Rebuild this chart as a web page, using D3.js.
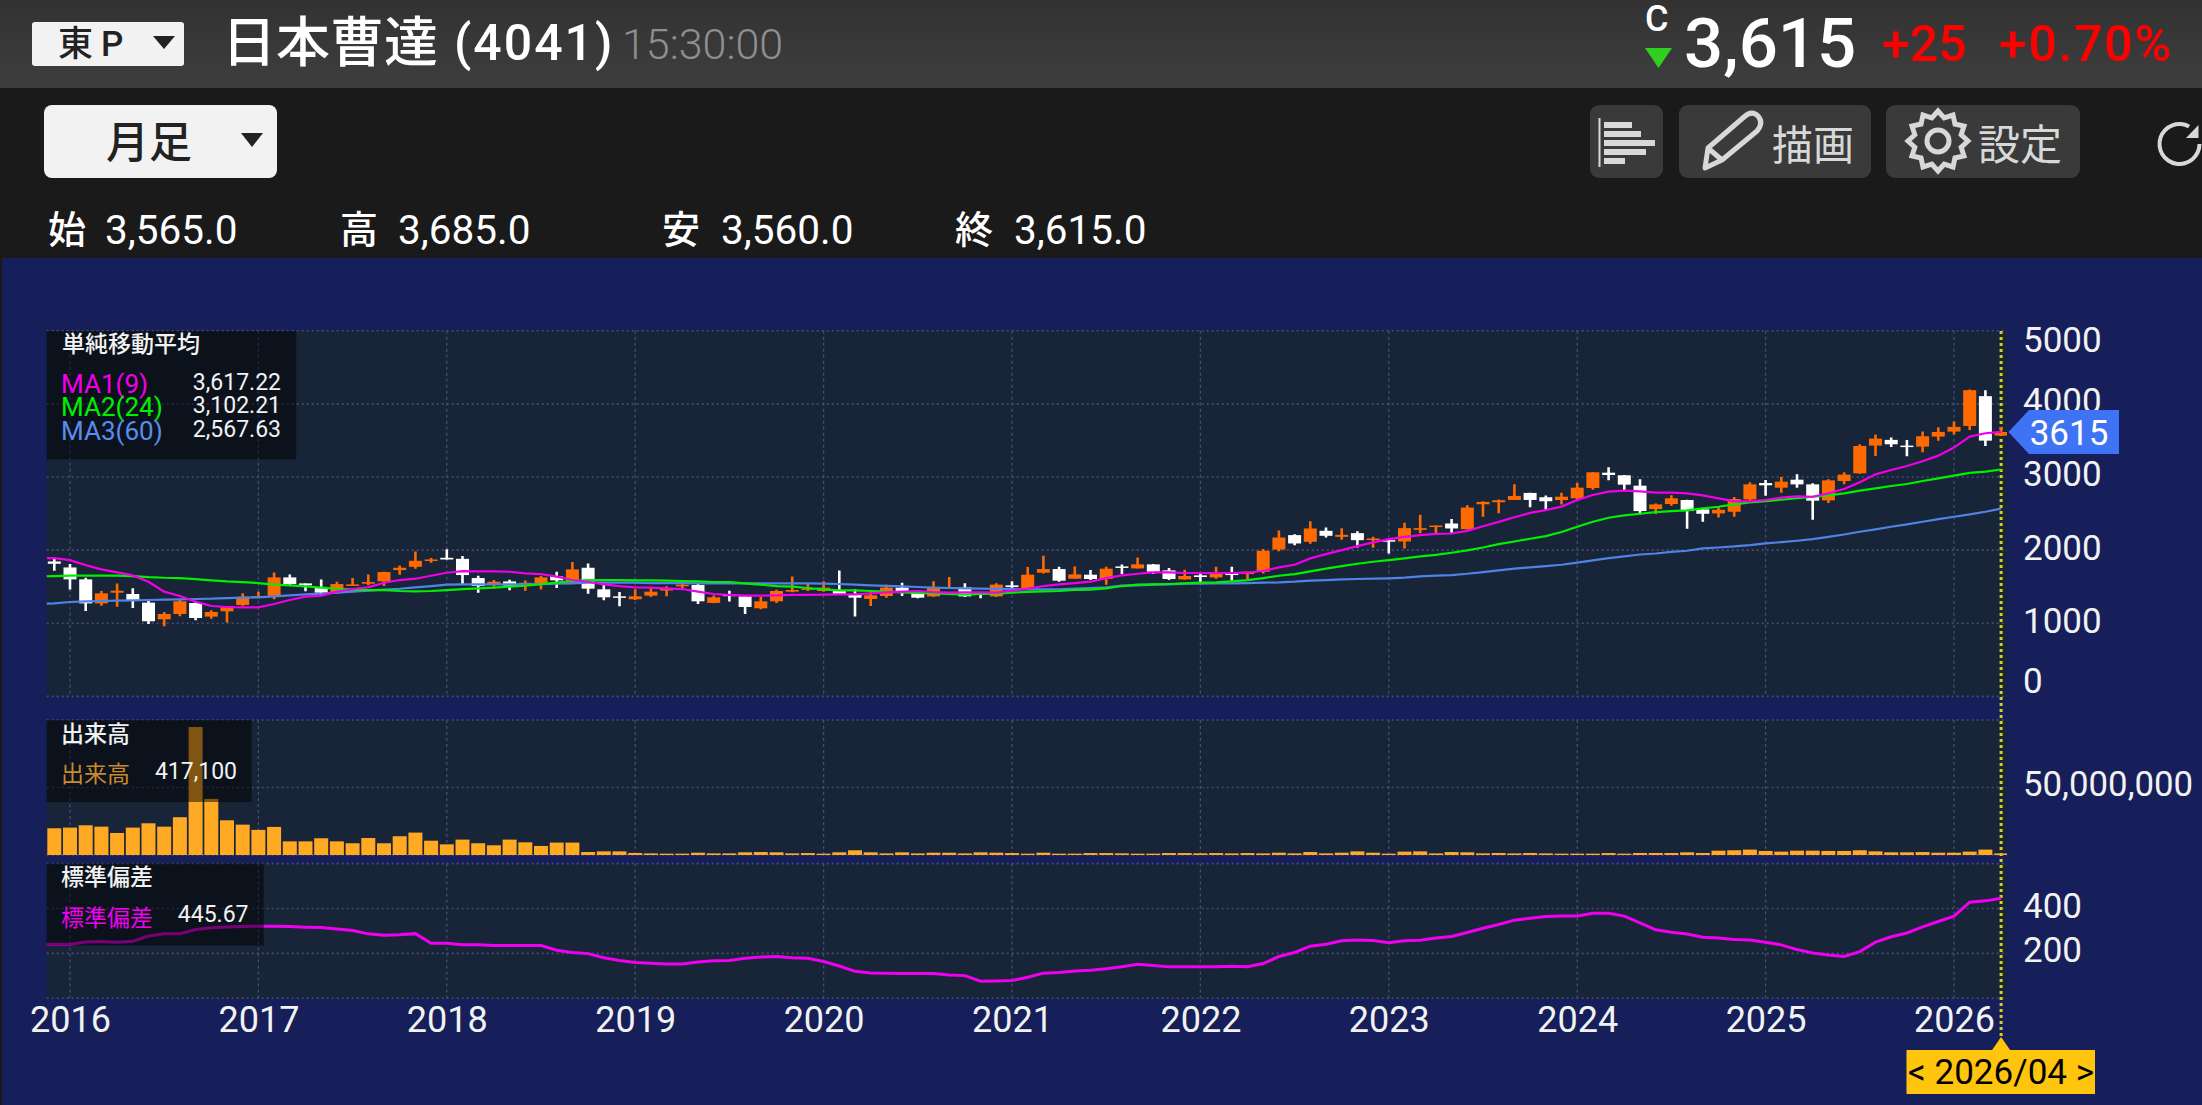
<!DOCTYPE html>
<html>
<head>
<meta charset="utf-8">
<script src="https://cdn.jsdelivr.net/npm/d3@7"></script>
<style>
  html, body { margin: 0; padding: 0; background: #161f5a; overflow: hidden; }
  svg { display: block; }
  text { font-family: Roboto, "Noto Sans CJK JP", sans-serif; }
</style>
</head>
<body>
<div id="chart"></div>
<script>
const width = 2202, height = 1105;

// monthly bars, 2015/11 (just off the left edge) to 2026/04
const months = d3.timeMonth.range(new Date(2015, 10, 1), new Date(2026, 4, 1)).map(d3.timeFormat("%Y/%m"));
const yearLabels = ["2016", "2017", "2018", "2019", "2020", "2021", "2022", "2023", "2024", "2025", "2026"];

const opens = [1880,
  1845,1763,1600,1272,1418,1400,1282,1054,1127,1277,
  1091,1163,1250,1354,1363,1627,1545,1491,1413,1527,
  1541,1573,1727,1772,1863,1895,1881,1618,1527,1572,
  1531,1541,1641,1573,1759,1464,1368,1328,1378,1455,
  1505,1523,1278,1391,1368,1205,1300,1432,1468,1441,
  1450,1387,1332,1373,1487,1409,1368,1477,1491,1425,
  1368,1518,1477,1691,1741,1609,1664,1605,1777,1750,
  1805,1723,1600,1655,1627,1700,1673,1705,2009,2205,
  2114,2264,2182,2232,2141,2136,2118,2277,2318,2364,
  2286,2627,2655,2686,2782,2723,2685,2708,2849,3059,
  3023,2881,2561,2630,2685,2557,2502,2525,2694,2917,
  2854,2963,2899,2680,2945,3050,3429,3507,3429,3415,
  3552,3621,3698,4105,3565];
const closes = [1845,
  1813,1600,1272,1409,1445,1313,1027,1127,1300,1072,
  1154,1236,1363,1372,1627,1536,1518,1418,1536,1531,
  1563,1700,1759,1854,1872,1872,1659,1509,1568,1513,
  1554,1627,1587,1737,1473,1355,1350,1368,1432,1468,
  1528,1300,1355,1373,1223,1300,1441,1455,1477,1487,
  1400,1350,1382,1487,1414,1350,1496,1496,1368,1423,
  1528,1496,1664,1741,1582,1668,1605,1746,1759,1805,
  1705,1605,1646,1632,1673,1659,1705,1991,2173,2091,
  2296,2196,2209,2136,2159,2118,2300,2300,2336,2296,
  2582,2659,2682,2741,2686,2668,2730,2854,3064,3027,
  2895,2534,2625,2708,2534,2497,2552,2698,2899,2886,
  2936,2899,2676,2954,3032,3424,3525,3447,3415,3557,
  3616,3685,4187,3497,3615];
const highs = [1920,
  1900,1809,1622,1441,1545,1477,1313,1154,1327,1300,
  1177,1236,1409,1432,1695,1668,1545,1600,1568,1618,
  1668,1704,1791,1981,1891,2013,1918,1650,1591,1595,
  1586,1645,1705,1837,1818,1532,1428,1464,1482,1505,
  1578,1546,1378,1446,1382,1364,1459,1641,1546,1573,
  1723,1464,1428,1527,1555,1446,1573,1632,1546,1428,
  1546,1573,1768,1923,1773,1777,1727,1773,1805,1900,
  1809,1755,1732,1682,1773,1773,1705,2014,2268,2218,
  2396,2309,2300,2259,2182,2141,2373,2482,2336,2427,
  2614,2668,2691,2900,2786,2746,2785,2918,3064,3132,
  3027,2968,2639,2749,2689,2566,2593,2726,2927,2959,
  3000,3036,2913,2968,3064,3447,3580,3539,3507,3621,
  3680,3758,4196,4187,3685];
const lows = [1800,
  1718,1463,1168,1241,1227,1209,991,959,1095,1041,
  1063,1009,1241,1341,1327,1518,1436,1391,1404,1522,
  1518,1509,1663,1745,1827,1872,1527,1418,1472,1450,
  1445,1463,1482,1546,1405,1314,1232,1318,1359,1368,
  1455,1264,1273,1296,1128,1191,1278,1423,1441,1432,
  1387,1091,1237,1350,1373,1341,1359,1468,1359,1341,
  1359,1450,1473,1682,1568,1609,1591,1527,1673,1750,
  1673,1591,1600,1555,1609,1582,1600,1682,1986,2068,
  2086,2173,2141,2036,2032,1955,2023,2232,2227,2236,
  2282,2455,2505,2686,2586,2546,2625,2676,2826,2954,
  2799,2488,2493,2607,2292,2388,2447,2456,2676,2744,
  2785,2854,2415,2644,2899,3045,3287,3411,3283,3338,
  3497,3580,3644,3424,3560];

const ma1 = [1891,
  1891,1863,1795,1736,1695,1654,1568,1432,1372,1295,
  1236,1222,1218,1218,1263,1318,1363,1377,1432,1468,
  1491,1554,1591,1609,1650,1691,1713,1709,1709,1704,
  1681,1672,1637,1591,1568,1532,1509,1491,1487,1477,
  1468,1432,1400,1387,1378,1378,1382,1387,1387,1391,
  1396,1396,1409,1423,1432,1441,1427,1418,1423,1423,
  1418,1446,1473,1509,1532,1550,1568,1618,1655,1677,
  1696,1696,1687,1687,1687,1687,1691,1718,1764,1800,
  1887,1946,2000,2055,2105,2150,2182,2205,2223,2227,
  2264,2327,2386,2450,2509,2546,2595,2685,2753,2799,
  2813,2803,2785,2785,2776,2749,2708,2666,2666,2685,
  2717,2735,2730,2776,2835,2927,3036,3096,3150,3214,
  3292,3402,3552,3598,3617];
const ma2 = [1641,
  1645,1650,1650,1650,1650,1645,1631,1622,1618,1604,
  1586,1572,1563,1550,1527,1518,1504,1486,1472,1459,
  1454,1454,1441,1436,1441,1454,1468,1477,1486,1500,
  1513,1534,1555,1578,1591,1591,1591,1587,1587,1582,
  1578,1573,1564,1564,1546,1528,1509,1500,1482,1464,
  1450,1450,1441,1432,1423,1414,1409,1400,1391,1400,
  1405,1418,1428,1437,1441,1455,1459,1477,1509,1527,
  1532,1537,1546,1555,1559,1573,1591,1618,1650,1673,
  1709,1746,1782,1814,1841,1864,1887,1914,1936,1964,
  1996,2036,2082,2118,2155,2191,2248,2319,2388,2443,
  2475,2497,2520,2534,2543,2571,2593,2625,2653,2671,
  2689,2712,2730,2749,2776,2813,2845,2877,2904,2945,
  2982,3018,3055,3073,3102];
const ma3 = [1263,
  1272,1291,1300,1304,1309,1313,1318,1322,1327,1332,
  1336,1345,1350,1354,1368,1382,1395,1404,1418,1432,
  1445,1459,1472,1491,1509,1527,1532,1532,1532,1532,
  1532,1536,1541,1546,1555,1555,1555,1555,1550,1550,
  1550,1546,1546,1546,1546,1546,1546,1546,1546,1541,
  1537,1528,1519,1510,1505,1496,1487,1482,1478,1473,
  1469,1469,1464,1464,1465,1473,1482,1491,1514,1518,
  1527,1532,1541,1541,1546,1546,1550,1555,1559,1568,
  1582,1591,1600,1605,1609,1614,1623,1641,1650,1659,
  1677,1700,1723,1746,1764,1782,1800,1830,1860,1890,
  1915,1940,1954,1977,1991,2023,2036,2050,2068,2091,
  2109,2128,2150,2182,2214,2251,2283,2319,2351,2388,
  2424,2456,2488,2525,2568];

// volume in millions of shares
const volumes = [20,
  19.8,20.3,22.0,21.0,16.3,20.3,23.5,21.0,28.0,94.8,
  41.6,25.7,22.5,18.6,20.8,10.1,10.1,12.4,10.1,8.7,
  12.6,8.7,13.9,16.6,10.6,7.9,11.4,8.7,7.2,11.4,
  9.4,6.7,9.2,9.2,2.2,2.7,2.7,1.5,1.2,1.0,
  1.0,1.7,1.2,1.2,2.0,2.2,2.0,1.2,0.7,1.0,
  2.0,3.5,2.0,1.2,2.0,1.2,1.7,1.7,1.2,2.0,
  1.7,0.7,1.0,1.7,1.0,1.0,0.7,0.7,0.5,1.0,
  1.0,0.7,0.7,0.5,0.7,1.2,0.7,1.2,1.7,1.2,
  2.2,1.2,1.7,2.7,1.7,1.0,2.5,2.7,1.2,2.2,
  2.0,1.2,1.5,1.2,1.5,1.2,1.0,1.0,1.0,0.7,
  1.0,1.5,1.5,1.5,2.0,1.5,3.2,3.5,4.0,3.0,
  2.5,3.2,3.2,3.0,3.0,3.5,2.7,2.0,2.0,2.2,
  1.7,1.7,2.5,4.0,0.4171];

const stdev = [241,
  241,241,251,253,250,254,278,287,288,306,
  314,318,320,321,321,320,317,315,309,302,
  287,281,283,288,245,245,239,238,235,235,
  235,235,214,204,199,181,168,159,156,153,
  153,162,167,168,178,184,186,181,178,164,
  144,120,113,112,110,110,110,104,101,76,
  77,79,94,112,115,122,125,132,141,152,
  146,140,140,140,141,143,141,155,186,204,
  232,241,256,260,257,248,256,259,269,275,
  293,312,329,348,357,364,367,367,379,379,
  366,336,305,294,286,272,269,262,260,250,
  238,217,202,193,186,208,250,274,291,318,
  342,366,428,434,446];

const priceTicks = [5000, 4000, 3000, 2000, 1000, 0];
const volGrid = [100, 50, 0];
const volTicks = [50];
const stdGrid = [600, 400, 200, 0];
const stdTicks = [400, 200];

const orange = "#ff6a00", white = "#ffffff", gridColor = "#434f72";
const plotLeft = 46.7, plotRight = 2007;

const svg = d3.select("#chart").append("svg")
  .attr("width", width)
  .attr("height", height);

const defs = svg.append("defs");
const grad = defs.append("linearGradient").attr("id", "headerGrad").attr("x2", 0).attr("y2", 1);
grad.append("stop").attr("offset", 0).attr("stop-color", "#323232");
grad.append("stop").attr("offset", 1).attr("stop-color", "#3e3e3e");

// page bands
svg.append("rect").attr("width", width).attr("height", height).attr("fill", "#161f5a");
svg.append("rect").attr("width", width).attr("height", 258).attr("fill", "#1a1a1a");
svg.append("rect").attr("width", width).attr("height", 88).attr("fill", "url(#headerGrad)");
svg.append("rect").attr("y", 258).attr("width", 2).attr("height", height - 258).attr("fill", "#1a1a1a");

function label(parent, x, y, str, size, fill, opts = {}) {
  return parent.append("text")
    .attr("x", x).attr("y", y)
    .attr("font-size", size)
    .attr("fill", fill)
    .attr("font-weight", opts.weight || 400)
    .attr("text-anchor", opts.anchor || "start")
    .attr("letter-spacing", opts.spacing || null)
    .text(str);
}

// ---- header ----
const head = svg.append("g");
head.append("rect").attr("x", 32).attr("y", 22).attr("width", 152).attr("height", 44).attr("rx", 3).attr("fill", "#f2f2f2");
label(head, 58, 56, "東P", 35, "#222", { weight: 500, spacing: 8 });
head.append("path").attr("d", "M153,36 L175,36 L164,49 Z").attr("fill", "#222");
label(head, 222, 62, "日本曹達", 54, "#fff", { weight: 500 });
label(head, 454, 60, "(4041)", 50, "#fff", { weight: 500, spacing: 2 });
label(head, 622, 59, "15:30:00", 43, "#8f8f8f", { weight: 300 });

label(head, 1645, 31, "C", 36, "#fff", { weight: 500 });
head.append("path").attr("d", "M1645,48 L1672,48 L1658.5,68 Z").attr("fill", "#2fd020");
label(head, 1684, 67, "3,615", 69, "#fff", { weight: 500 });
label(head, 1882, 61, "+25", 50, "#ff0000", { weight: 500 });
label(head, 1999, 61, "+0.70%", 50, "#ff0000", { weight: 500, spacing: 1.7 });

// toolbar
head.append("rect").attr("x", 44).attr("y", 105).attr("width", 233).attr("height", 73).attr("rx", 8).attr("fill", "#f2f2f2");
label(head, 106, 158, "月足", 43, "#222", { weight: 500 });
head.append("path").attr("d", "M241,133 L263,133 L252,147 Z").attr("fill", "#222");

const btnFill = "#3a3a3a", iconCol = "#d8d8d8";
[[1590, 73], [1679, 192], [1886, 194]].forEach(([x, w]) => {
  head.append("rect").attr("x", x).attr("y", 105).attr("width", w).attr("height", 73).attr("rx", 9).attr("fill", btnFill);
});
head.append("line").attr("x1", 1599.5).attr("x2", 1599.5).attr("y1", 118).attr("y2", 167).attr("stroke", iconCol).attr("stroke-width", 2);
[[122, 1632], [131, 1641], [140, 1655], [149, 1646], [158, 1625]].forEach(([y, x2]) => {
  head.append("rect").attr("x", 1604).attr("y", y).attr("width", x2 - 1604).attr("height", 6).attr("fill", iconCol);
});
head.append("path")
  .attr("d", "M1705,168 L1708,148 L1744,117 Q1752,110 1758,116 Q1764,123 1757,131 L1722,160 Z M1709,149 L1722,160")
  .attr("fill", "none").attr("stroke", iconCol).attr("stroke-width", 5).attr("stroke-linejoin", "round");
label(head, 1772, 160, "描画", 41, iconCol);

// gear outline
const gearPts = d3.range(24).map(i => {
  const a = i / 24 * 2 * Math.PI, r = i % 2 ? 24 : 30;
  return [1938 + r * Math.cos(a), 141 + r * Math.sin(a)];
});
head.append("path").attr("d", d3.line()(gearPts) + "Z").attr("fill", "none").attr("stroke", iconCol).attr("stroke-width", 5);
head.append("circle").attr("cx", 1938).attr("cy", 141).attr("r", 11).attr("fill", "none").attr("stroke", iconCol).attr("stroke-width", 5);
label(head, 1978, 160, "設定", 42, iconCol);

// reload arrow
head.append("path")
  .attr("d", d3.arc()({ innerRadius: 18, outerRadius: 22, startAngle: Math.PI / 2, endAngle: 2 * Math.PI + 0.5 }))
  .attr("transform", "translate(2179.5,144)")
  .attr("fill", iconCol);
head.append("path").attr("d", "M2198.5,125 L2198.5,138 L2186,138 Z").attr("fill", iconCol);

// OHLC row
[["始", 48, "3,565.0", 105], ["高", 340, "3,685.0", 398], ["安", 662, "3,560.0", 721], ["終", 955, "3,615.0", 1014]].forEach(([k, kx, v, vx]) => {
  label(head, kx, 243, k, 38, "#fff", { weight: 500 });
  label(head, vx, 244, v, 40.5, "#fff");
});

// ---- scales ----
const x = d3.scalePoint().domain(months).range([38.6, 2001.1]);
const yPrice = d3.scaleLinear().domain([0, 5000]).range([696.4, 330.7]);
const yVol = d3.scaleLinear().domain([0, 100]).range([855, 720]);
const yStd = d3.scaleLinear().domain([0, 600]).range([998.3, 863.6]);

// ---- panels and grid ----
const panels = [
  { y: yPrice, grid: priceTicks },
  { y: yVol, grid: volGrid },
  { y: yStd, grid: stdGrid }
];
panels.forEach((p, n) => {
  const [bottom, top] = p.y.range();
  svg.append("clipPath").attr("id", "clip" + n).append("rect")
    .attr("x", plotLeft).attr("y", top).attr("width", plotRight - plotLeft).attr("height", bottom - top);
  svg.append("rect")
    .attr("x", plotLeft).attr("y", top).attr("width", plotRight - plotLeft).attr("height", bottom - top)
    .attr("fill", "#182438");
  svg.append("g").selectAll("line").data(p.grid).join("line")
    .attr("x1", plotLeft).attr("x2", plotRight)
    .attr("y1", d => p.y(d)).attr("y2", d => p.y(d))
    .attr("stroke", gridColor).attr("stroke-width", 1.6).attr("stroke-dasharray", "2 3");
  svg.append("g").selectAll("line").data(yearLabels).join("line")
    .attr("x1", d => x(d + "/01")).attr("x2", d => x(d + "/01"))
    .attr("y1", top).attr("y2", bottom)
    .attr("stroke", gridColor).attr("stroke-width", 1.3).attr("stroke-dasharray", "3 3");
});

// cursor line on the latest month
svg.append("line")
  .attr("x1", x("2026/04")).attr("x2", x("2026/04"))
  .attr("y1", 331).attr("y2", 1040)
  .attr("stroke", "#d4d026").attr("stroke-width", 3).attr("stroke-dasharray", "3 3");

// ---- candles ----
const candles = months.map((m, i) => ({ m, o: opens[i], h: highs[i], l: lows[i], c: closes[i] }));
const candleG = svg.append("g").attr("clip-path", "url(#clip0)");
const candleColor = d => d.c >= d.o ? orange : white;
candleG.selectAll("line").data(candles).join("line")
  .attr("x1", d => x(d.m)).attr("x2", d => x(d.m))
  .attr("y1", d => yPrice(d.h)).attr("y2", d => yPrice(d.l))
  .attr("stroke", candleColor).attr("stroke-width", 2.6);
candleG.selectAll("rect").data(candles).join("rect")
  .attr("x", d => x(d.m) - 6.5).attr("width", 13)
  .attr("y", d => yPrice(Math.max(d.o, d.c)))
  .attr("height", d => Math.max(1.5, Math.abs(yPrice(d.o) - yPrice(d.c))))
  .attr("fill", candleColor);

// ---- moving averages ----
const maLine = d3.line().x((d, i) => x(months[i])).y(d => yPrice(d));
const lineG = svg.append("g").attr("clip-path", "url(#clip0)").attr("fill", "none").attr("stroke-width", 2.2);
lineG.append("path").attr("d", maLine(ma3)).attr("stroke", "#4f83e6");
lineG.append("path").attr("d", maLine(ma2)).attr("stroke", "#00f000");
lineG.append("path").attr("d", maLine(ma1)).attr("stroke", "#f000e8");

// ---- volume ----
svg.append("g").attr("clip-path", "url(#clip1)")
  .selectAll("rect").data(volumes).join("rect")
  .attr("x", (d, i) => x(months[i]) - 7).attr("width", 14)
  .attr("y", d => yVol(d) - (d < 1 ? 1 : 0))
  .attr("height", d => yVol(0) - yVol(d) + (d < 1 ? 1 : 0))
  .attr("fill", "#ffaa22");

// ---- standard deviation ----
const stdLine = d3.line().x((d, i) => x(months[i])).y(d => yStd(d));
svg.append("path").attr("clip-path", "url(#clip2)")
  .attr("d", stdLine(stdev))
  .attr("fill", "none").attr("stroke", "#f000f0").attr("stroke-width", 3);

// ---- axes ----
const axisText = (sel, size) => sel.call(g => g.select(".domain").remove())
  .selectAll("text").attr("fill", "#f2f2f2").attr("font-size", size).attr("dy", 0)
  .style("font-family", 'Roboto, "Noto Sans CJK JP", sans-serif');

svg.append("g").attr("transform", "translate(2007,0)")
  .call(d3.axisRight(yPrice).tickValues(priceTicks).tickSize(0).tickPadding(16).tickFormat(d3.format("d")))
  .call(axisText, 35)
  .selectAll("text").attr("y", d => Math.max(351, Math.min(692, yPrice(d) + 9)) - yPrice(d));

svg.append("g").attr("transform", "translate(2007,0)")
  .call(d3.axisRight(yVol).tickValues(volTicks).tickSize(0).tickPadding(16).tickFormat(d => d3.format(",")(d * 1e6)))
  .call(axisText, 34.8)
  .selectAll("text").attr("y", 8);

svg.append("g").attr("transform", "translate(2007,0)")
  .call(d3.axisRight(yStd).tickValues(stdTicks).tickSize(0).tickPadding(16).tickFormat(d3.format("d")))
  .call(axisText, 35)
  .selectAll("text").attr("y", 8.5);

svg.append("g").attr("transform", "translate(0,998)")
  .call(d3.axisBottom(x).tickValues(yearLabels.map(d => d + "/01")).tickSize(0).tickPadding(0).tickFormat(d => d.slice(0, 4)))
  .call(axisText, 36)
  .selectAll("text").attr("y", 33.5);

// ---- legends ----
function legendBox(top, w, h) {
  svg.append("rect").attr("x", plotLeft).attr("y", top).attr("width", w).attr("height", h)
    .attr("fill", "#000").attr("fill-opacity", 0.5);
}
legendBox(331, 249.5, 128.5);
label(svg, 62, 352, "単純移動平均", 23, "#f2f2f2", { weight: 500 });
[["MA1(9)", "#f000e8", "3,617.22", 392.5, 389.5],
 ["MA2(24)", "#00f000", "3,102.21", 416, 413],
 ["MA3(60)", "#5a8cf0", "2,567.63", 440, 436.5]].forEach(([name, col, val, yName, yVal]) => {
  label(svg, 61, yName, name, 26, col);
  label(svg, 281, yVal, val, 23, "#f2f2f2", { anchor: "end" });
});

legendBox(720, 205, 82);
label(svg, 61, 742, "出来高", 23, "#f2f2f2", { weight: 500 });
label(svg, 61, 782, "出来高", 23, "#c98a2c");
label(svg, 237, 779, "417,100", 23, "#f2f2f2", { anchor: "end" });

legendBox(863.5, 217, 82);
label(svg, 61, 885, "標準偏差", 23, "#f2f2f2", { weight: 500 });
label(svg, 61, 926, "標準偏差", 23, "#f000f0");
label(svg, 248.5, 922, "445.67", 23, "#f2f2f2", { anchor: "end" });

// ---- price and date tags ----
svg.append("path").attr("d", "M2008.5,432 L2029,410 L2119,410 L2119,454 L2029,454 Z").attr("fill", "#3f73f5");
label(svg, 2069, 445, "3615", 35, "#fff", { anchor: "middle" });

const xLast = x("2026/04");
svg.append("path")
  .attr("d", `M${xLast},1037 L${xLast + 9},1050 L2095,1050 L2095,1094 L1906.5,1094 L1906.5,1050 L${xLast - 9},1050 Z`)
  .attr("fill", "#ffc50d");
label(svg, 2001, 1084, "< 2026/04 >", 35, "#000", { anchor: "middle" });
</script>
</body>
</html>
